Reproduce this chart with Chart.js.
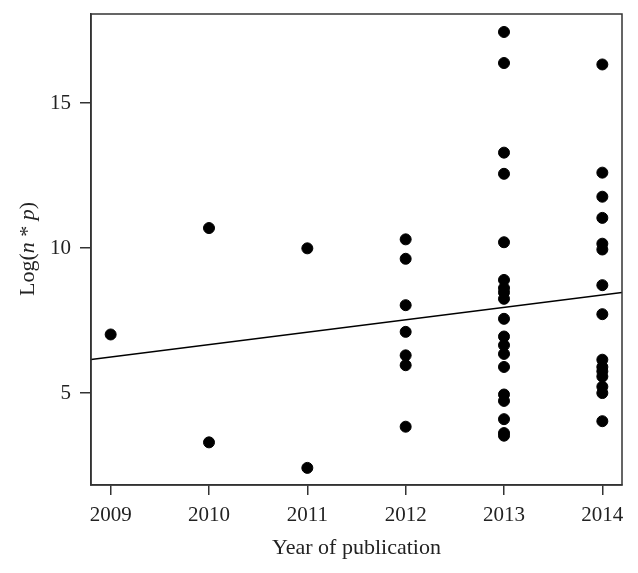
<!DOCTYPE html>
<html>
<head>
<meta charset="utf-8">
<script src="https://cdn.jsdelivr.net/npm/chart.js@4.4.1/dist/chart.umd.min.js"></script>
<style>
html, body { margin: 0; padding: 0; background: #fff; }
#wrap { width: 638px; height: 573px; }
</style>
</head>
<body>
<div id="wrap"><canvas id="chart" width="638" height="573"></canvas></div>
<script>
// data
var years = [2009, 2010, 2011, 2012, 2013, 2014];
var vals2009 = [7.02];
var vals2010 = [10.69, 3.30];
var vals2011 = [9.99, 2.42];
var vals2012 = [10.30, 9.63, 8.03, 7.11, 6.30, 5.96, 3.84];
var vals2013 = [17.45, 16.38, 13.29, 12.56, 10.20, 8.90, 8.62, 8.47, 8.25, 7.56, 6.95, 6.65, 6.35, 5.90, 4.95, 4.73, 4.10, 3.62, 3.53];
var vals2014 = [16.33, 12.60, 11.77, 11.04, 10.15, 9.95, 8.72, 7.72, 6.15, 5.90, 5.75, 5.57, 5.22, 5.00, 4.03];
var yTicks = [5, 10, 15];
// fitted line (ends at the plot edges)
var fitX = [2008.8, 2014.2];
var fitY = [6.16, 8.47];

var serif = "'Liberation Serif', 'DejaVu Serif', serif";

var byYear = [vals2009, vals2010, vals2011, vals2012, vals2013, vals2014];
var points = [];
years.forEach(function (yr, i) {
    byYear[i].forEach(function (v) {
        points.push({ x: yr, y: v });
    });
});
var fitLine = fitX.map(function (x, i) { return { x: x, y: fitY[i] }; });

// box around the plot + y title with italic n and p
var extras = {
    id: "extras",
    afterDraw: function (chart) {
        var ctx = chart.ctx;
        var a = chart.chartArea;
        ctx.save();
        ctx.strokeStyle = "#333";
        ctx.lineWidth = 1.5;
        ctx.strokeRect(a.left, a.top, a.right - a.left, a.bottom - a.top);

        var parts = [
            ["Log(", "normal"], ["n", "italic"], [" * ", "normal"], ["p", "italic"], [")", "normal"]
        ];
        var size = 22;
        var total = 0;
        parts.forEach(function (p) {
            ctx.font = p[1] + " " + size + "px " + serif;
            total += ctx.measureText(p[0]).width;
        });
        ctx.translate(28, 249);
        ctx.rotate(-Math.PI / 2);
        ctx.fillStyle = "#222";
        ctx.textBaseline = "middle";
        ctx.textAlign = "left";
        var x = -total / 2;
        parts.forEach(function (p) {
            ctx.font = p[1] + " " + size + "px " + serif;
            ctx.fillText(p[0], x, 0);
            x += ctx.measureText(p[0]).width;
        });
        ctx.restore();
    }
};

var ctx = document.getElementById("chart").getContext("2d");
var chart = new Chart(ctx, {
    type: "scatter",
    data: {
        datasets: [{
            label: "Studies",
            data: points,
            backgroundColor: "#000",
            borderColor: "#000",
            pointRadius: 5.5,
            pointHoverRadius: 5.5
        }, {
            type: "line",
            label: "Fit",
            data: fitLine,
            borderColor: "#000",
            borderWidth: 1.5,
            pointRadius: 0,
            fill: false
        }]
    },
    options: {
        responsive: false,
        animation: false,
        layout: { padding: { top: 14, right: 16, left: 0, bottom: 0 } },
        plugins: {
            legend: { display: false },
            tooltip: { enabled: false }
        },
        scales: {
            x: {
                type: "linear",
                min: 2008.8,
                max: 2014.2,
                afterBuildTicks: function (s) {
                    s.ticks = years.map(function (v) { return { value: v }; });
                },
                afterFit: function (s) {
                    s.height = 88;
                    s.paddingLeft = 0;
                    s.paddingRight = 0;
                },
                ticks: {
                    font: { family: serif, size: 21 },
                    color: "#222",
                    padding: 8,
                    maxRotation: 0,
                    callback: function (v) { return String(v); }
                },
                grid: {
                    drawOnChartArea: false,
                    tickLength: 10,
                    color: "#333",
                    lineWidth: 1.5
                },
                border: { display: true, color: "#333", width: 1.5 },
                title: {
                    display: true,
                    text: "Year of publication",
                    font: { family: serif, size: 22 },
                    color: "#222",
                    padding: { top: 6, bottom: 12 }
                }
            },
            y: {
                min: 1.83,
                max: 18.07,
                afterBuildTicks: function (s) {
                    s.ticks = yTicks.map(function (v) { return { value: v }; });
                },
                afterFit: function (s) {
                    s.width = 91;
                    s.paddingTop = 0;
                    s.paddingBottom = 0;
                },
                ticks: {
                    font: { family: serif, size: 21 },
                    color: "#222",
                    padding: 9,
                    callback: function (v) { return String(v); }
                },
                grid: {
                    drawOnChartArea: false,
                    tickLength: 11,
                    color: "#333",
                    lineWidth: 1.5
                },
                border: { display: true, color: "#333", width: 1.5 }
            }
        }
    },
    plugins: [extras]
});
</script>
</body>
</html>
